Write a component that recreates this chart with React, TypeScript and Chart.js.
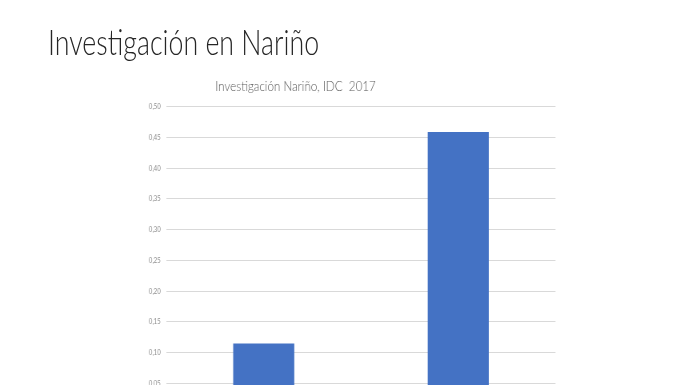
import React, { useEffect, useRef } from "react";
import { Chart, registerables } from "chart.js";

Chart.register(...registerables);

const pageTitle = "Investigación en Nariño";
const chartTitle = "Investigación Nariño, IDC  2017";
const categories = ["Nariño", "Colombia"];
const values = [0.115, 0.459];
const yMin = 0;
const yMax = 0.5;
const yStep = 0.05;

const SX = 0.8; // horizontal compression of the reference picture
const CW = 703;
const CH = 445;

export default function App() {
  const ref = useRef<HTMLCanvasElement | null>(null);

  useEffect(() => {
    if (!ref.current) return;
    const chart = new Chart(ref.current, {
      type: "bar",
      data: {
        labels: categories,
        datasets: [
          {
            data: values,
            backgroundColor: "#4472C4",
            borderWidth: 0,
            barPercentage: 0.314,
            categoryPercentage: 1,
          },
        ],
      },
      options: {
        animation: false,
        responsive: false,
        maintainAspectRatio: false,
        devicePixelRatio: 1,
        layout: { padding: { left: 44.4, right: 8.6, top: 0, bottom: 10.8 } },
        plugins: {
          legend: { display: false },
          tooltip: { enabled: false },
          title: {
            display: true,
            text: chartTitle,
            color: "#595959",
            font: { family: "Lato", size: 14.5, weight: "300" },
            padding: { top: 77.3, bottom: 12 },
          },
        },
        scales: {
          x: {
            grid: { display: false },
            border: { display: false },
            ticks: { color: "#8c8c8c", font: { family: "Lato", size: 8 } },
            afterFit: (s: any) => {
              s.height = 20;
            },
          },
          y: {
            min: yMin,
            max: yMax,
            border: { display: false },
            grid: { color: "#d9d9d9", lineWidth: 1, drawTicks: false },
            ticks: {
              stepSize: yStep,
              padding: 7.3,
              color: "#8c8c8c",
              font: { family: "Lato", size: 7.5 },
              callback: (v: any) => Number(v).toFixed(2).replace(".", ","),
            },
            afterFit: (s: any) => {
              s.width = 163.7;
            },
          },
        },
      },
    });
    return () => chart.destroy();
  }, []);

  return (
    <div
      style={{
        position: "fixed",
        left: 0,
        top: 0,
        width: 696,
        height: 385,
        overflow: "hidden",
        background: "#ffffff",
      }}
    >
      <div
        style={{
          position: "absolute",
          left: 0,
          top: 0,
          width: CW,
          height: CH,
          transform: `scaleX(${SX})`,
          transformOrigin: "0 0",
        }}
      >
        <canvas ref={ref} width={CW} height={CH} />
      </div>
      <div
        style={{
          position: "absolute",
          left: 48,
          top: 23.5,
          fontFamily: "Lato, sans-serif",
          fontWeight: 300,
          fontSize: 35.5,
          lineHeight: 1,
          color: "#262626",
          whiteSpace: "nowrap",
          transform: "scaleX(0.754)",
          transformOrigin: "0 0",
        }}
      >
        {pageTitle}
      </div>
    </div>
  );
}
